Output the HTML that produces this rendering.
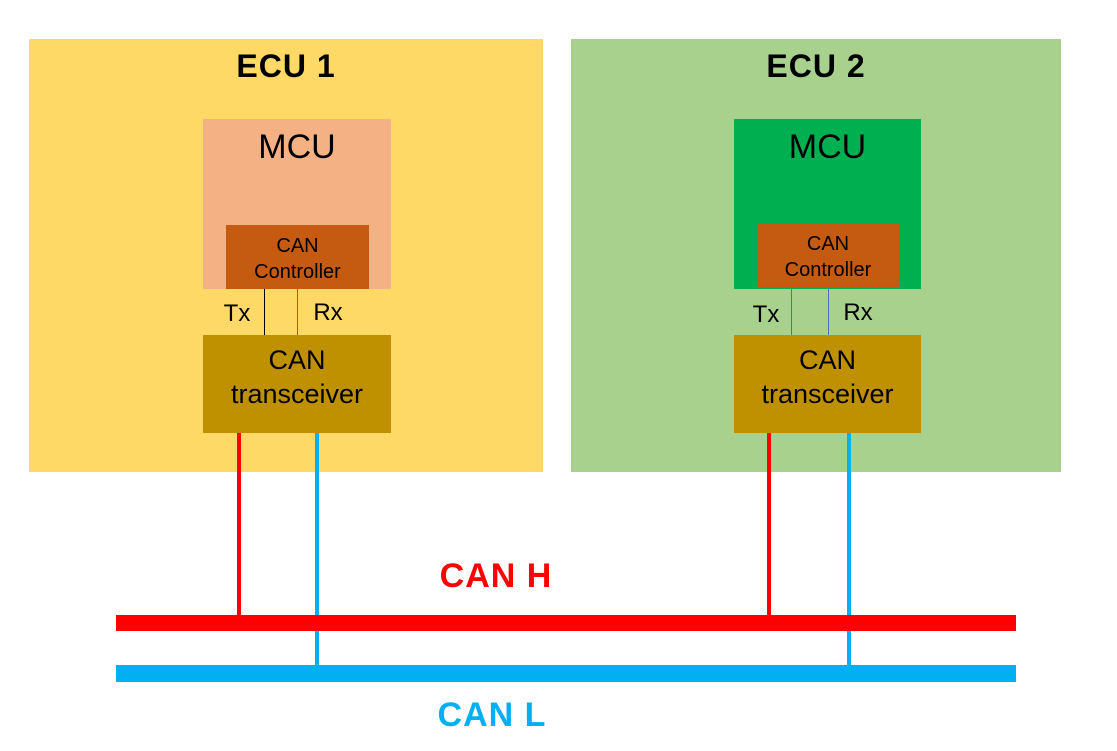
<!DOCTYPE html>
<html><head><meta charset="utf-8"><style>
body{margin:0;width:1117px;height:751px;background:#fff;position:relative;overflow:hidden;font-family:"Liberation Sans","DejaVu Sans",sans-serif}
div{position:absolute;box-sizing:border-box}
.t{text-align:center;color:#000}
</style></head><body>
<div style="left:29px;top:39px;width:514px;height:433px;background:#FFD966"></div>
<div style="left:571px;top:39px;width:490px;height:433px;background:#A9D18E"></div>
<div class="t" style="left:29px;top:48px;width:514px;font-size:32px;font-weight:bold;letter-spacing:1px">ECU 1</div>
<div class="t" style="left:571px;top:48px;width:490px;font-size:32px;font-weight:bold;letter-spacing:1px">ECU 2</div>

<div style="left:203px;top:119px;width:188px;height:170px;background:#F4B183"></div>
<div class="t" style="left:203px;top:128px;width:188px;font-size:34px">MCU</div>
<div style="left:226px;top:225px;width:143px;height:64px;background:#C55A11"></div>
<div class="t" style="left:226px;top:233px;width:143px;font-size:20px;line-height:26px">CAN<br>Controller</div>
<div style="left:264px;top:289px;width:1px;height:46px;background:#000"></div>
<div style="left:297px;top:289px;width:1px;height:46px;background:#4472C4"></div>
<div class="t" style="left:216px;top:300px;width:42px;font-size:24px">Tx</div>
<div class="t" style="left:305px;top:299px;width:46px;font-size:24px">Rx</div>
<div style="left:203px;top:335px;width:188px;height:98px;background:#BF9000"></div>
<div class="t" style="left:203px;top:343px;width:188px;font-size:27px;line-height:34px">CAN<br>transceiver</div>

<div style="left:734px;top:119px;width:187px;height:170px;background:#00B050"></div>
<div class="t" style="left:734px;top:128px;width:187px;font-size:34px">MCU</div>
<div style="left:757px;top:224px;width:142px;height:63px;background:#C55A11"></div>
<div class="t" style="left:757px;top:231px;width:142px;font-size:20px;line-height:26px">CAN<br>Controller</div>
<div style="left:791px;top:289px;width:1px;height:46px;background:#4472C4"></div>
<div style="left:828px;top:289px;width:1px;height:46px;background:#4472C4"></div>
<div class="t" style="left:745px;top:301px;width:42px;font-size:24px">Tx</div>
<div class="t" style="left:835px;top:299px;width:46px;font-size:24px">Rx</div>
<div style="left:734px;top:335px;width:187px;height:98px;background:#BF9000"></div>
<div class="t" style="left:734px;top:343px;width:187px;font-size:27px;line-height:34px">CAN<br>transceiver</div>

<div style="left:237px;top:433px;width:4px;height:184px;background:#FF0000"></div>
<div style="left:767px;top:433px;width:4px;height:184px;background:#FF0000"></div>
<div style="left:315px;top:433px;width:4px;height:234px;background:#00B0F0"></div>
<div style="left:847px;top:433px;width:4px;height:234px;background:#00B0F0"></div>
<div style="left:116px;top:615px;width:900px;height:16px;background:#FF0000"></div>
<div style="left:116px;top:665px;width:900px;height:17px;background:#00B0F0"></div>
<div class="t" style="left:396px;top:557px;width:200px;font-size:34px;font-weight:bold;letter-spacing:1px;color:#FF0000">CAN H</div>
<div class="t" style="left:392px;top:696px;width:200px;font-size:34px;font-weight:bold;letter-spacing:1px;color:#00B0F0">CAN L</div>
</body></html>
